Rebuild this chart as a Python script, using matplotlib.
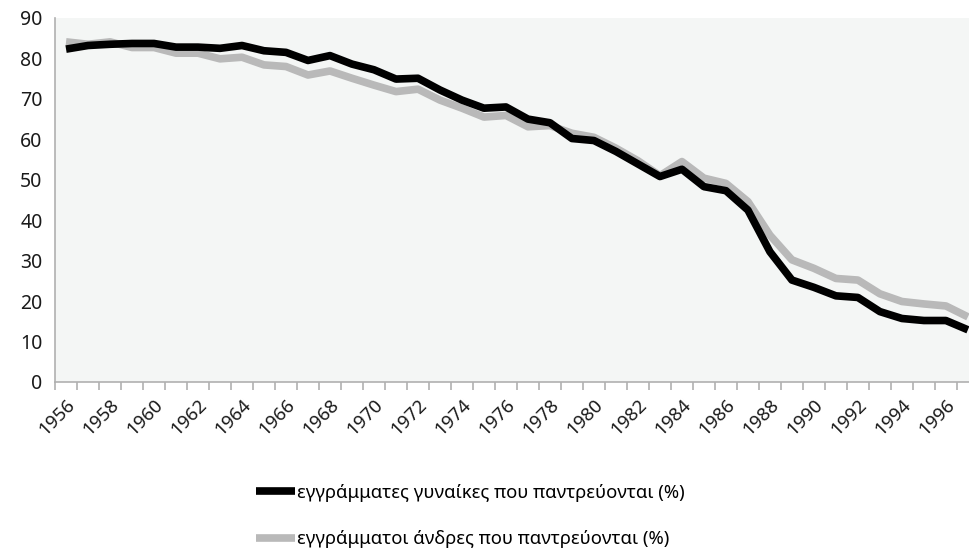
import numpy as np
import matplotlib.pyplot as plt

plt.rcParams['font.family'] = ['Noto Sans', 'DejaVu Sans']

years = list(range(1956, 1998))
# εγγράμματες γυναίκες (%)
women = [82.3, 83.2, 83.5, 83.7, 83.7, 82.8, 82.8, 82.5, 83.2, 81.9,
         81.5, 79.5, 80.7, 78.6, 77.2, 74.9, 75.1, 72.2, 69.7, 67.7,
         68.0, 65.0, 64.1, 60.2, 59.7, 57.0, 53.9, 50.8, 52.6, 48.3,
         47.3, 42.5, 32.2, 25.2, 23.4, 21.3, 20.9, 17.4, 15.7, 15.2,
         15.2, 12.9]
# εγγράμματοι άνδρες (%)
men = [84.1, 83.5, 84.1, 82.7, 82.7, 81.3, 81.3, 79.9, 80.3, 78.4,
       78.0, 75.9, 76.9, 75.1, 73.4, 71.8, 72.4, 69.7, 67.7, 65.5,
       65.9, 63.1, 63.4, 61.5, 60.5, 57.8, 54.7, 51.0, 54.5, 50.4,
       49.1, 44.6, 36.3, 30.2, 28.1, 25.6, 25.2, 21.8, 19.9, 19.3,
       18.8, 16.1]
label_women = 'εγγράμματες γυναίκες που παντρεύονται (%)'
label_men = 'εγγράμματοι άνδρες που παντρεύονται (%)'

fig = plt.figure(figsize=(9.69, 5.57), dpi=100)
ax = fig.add_axes([0.0568, 0.3142, 0.9432, 0.6535])
ax.set_facecolor('#f4f6f5')

l2, = ax.plot(years, men, color='#b9b9b9', lw=5.5, solid_capstyle='butt', label=label_men)
l1, = ax.plot(years, women, color='black', lw=5.5, solid_capstyle='butt', label=label_women)

ax.set_xlim(1955.5, 1997.05)
ax.set_ylim(0, 90)
ax.set_yticks(range(0, 91, 10))
ax.tick_params(axis='y', length=0, labelsize=14, labelcolor='#1a1a1a', pad=9)

ax.set_xticks(np.arange(1955.5, 1997.5, 1), minor=True)
ax.set_xticks(years[::2])
ax.set_xticklabels([str(y) for y in years[::2]], rotation=45, ha='right',
                   rotation_mode='anchor', fontsize=13.5, color='#1a1a1a')
ax.tick_params(axis='x', which='major', length=0, pad=10)
ax.tick_params(axis='x', which='minor', length=6, color='#b0b0b0', width=1.2)

for s in ['top', 'right']:
    ax.spines[s].set_visible(False)
for s in ['left', 'bottom']:
    ax.spines[s].set_color('#b0b0b0')
    ax.spines[s].set_linewidth(1.2)

fig.legend(handles=[l1, l2], loc='upper left', bbox_to_anchor=(0.257, 0.145),
           frameon=False, fontsize=13.3, handlelength=2.1, handletextpad=0.1,
           labelspacing=1.55, borderaxespad=0)

fig.savefig('out.png', dpi=100)
